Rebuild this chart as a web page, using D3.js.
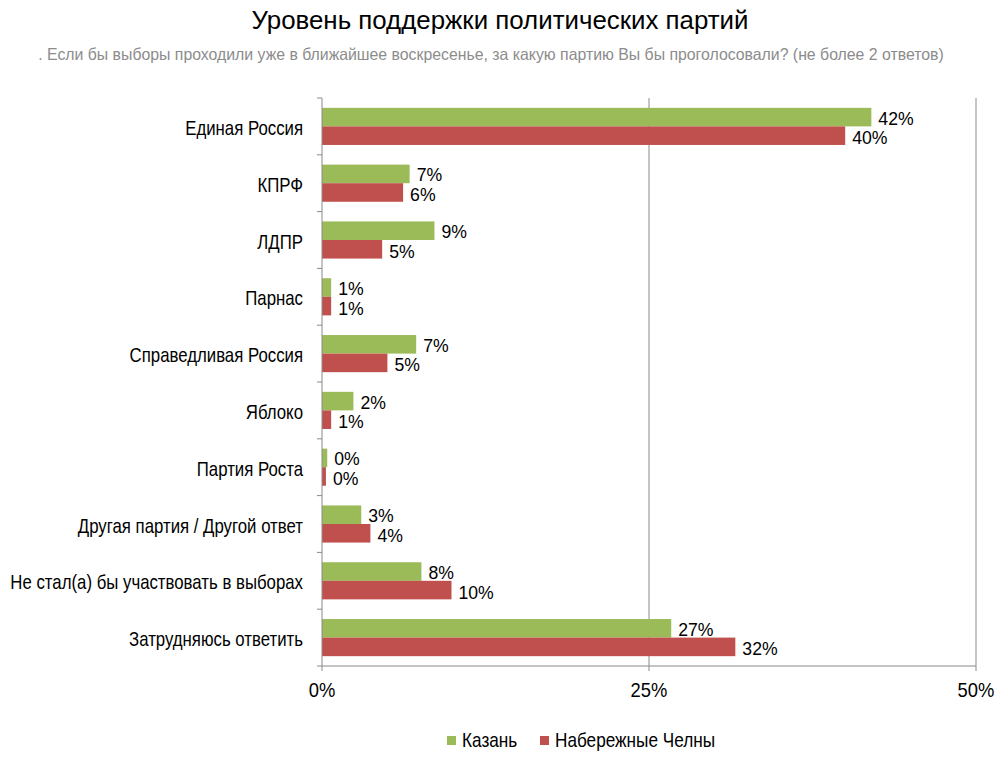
<!DOCTYPE html>
<html><head><meta charset="utf-8">
<script src="https://cdn.jsdelivr.net/npm/d3@7"></script>
<style>body{margin:0;background:#fff}svg{display:block}</style>
</head><body>
<script>
const categories = ["Единая Россия","КПРФ","ЛДПР","Парнас","Справедливая Россия","Яблоко","Партия Роста","Другая партия / Другой ответ","Не стал(а) бы участвовать в выборах","Затрудняюсь ответить"];
const kazan = [42.0,6.7,8.6,0.7,7.2,2.4,0.4,3.0,7.6,26.7];
const chelny = [40.0,6.2,4.6,0.7,5.0,0.7,0.3,3.7,9.9,31.6];
const seriesNames = ["Казань","Набережные Челны"];
const colors = ["#9BBB59","#C0504D"];
const xTicks = [0,25,50];
const title = "Уровень поддержки политических партий";
const subtitle = ". Если бы выборы проходили уже в ближайшее воскресенье, за какую партию Вы бы проголосовали? (не более 2 ответов)";

const W=1000,H=757;
const m={left:322,right:24,top:98,bottom:91};
const svg=d3.select("body").append("svg").attr("width",W).attr("height",H);
const font="'Liberation Sans',Arial,sans-serif";

function txt(parent,px,py,s,size,sx,anchor,fill){
  return parent.append("text").attr("transform",`translate(${px},${py}) scale(${sx},1)`)
    .attr("text-anchor",anchor||"start").style("font-family",font).style("font-size",size+"px")
    .attr("fill",fill||"#000").text(s);
}

txt(svg,500,29,title,26,0.995,"middle");
txt(svg,491,60,subtitle,16.5,0.96,"middle","#8c8c8c");

const x=d3.scaleLinear().domain([0,50]).range([m.left,W-m.right]);
const y=d3.scaleBand().domain(categories).range([m.top,H-m.bottom]);
const y1=d3.scaleBand().domain([0,1]).range([0,y.bandwidth()]).paddingOuter(0.53).paddingInner(0);

svg.append("g").selectAll("line").data(xTicks.filter(d=>d>0)).join("line")
 .attr("x1",d=>x(d)).attr("x2",d=>x(d)).attr("y1",m.top).attr("y2",H-m.bottom)
 .attr("stroke","#8a8a8a").attr("stroke-width",1);

const data=categories.map((c,i)=>({c,vals:[kazan[i],chelny[i]]}));
const g=svg.append("g").selectAll("g").data(data).join("g").attr("transform",d=>`translate(0,${y(d.c)})`);
g.selectAll("rect").data(d=>d.vals.map((v,s)=>({v,s}))).join("rect")
 .attr("x",x(0)).attr("y",d=>y1(d.s)).attr("width",d=>x(d.v)-x(0)).attr("height",y1.bandwidth())
 .attr("fill",d=>colors[d.s]);
g.each(function(d){
  const gg=d3.select(this);
  d.vals.forEach((v,s)=>{
    txt(gg,x(v)+7,y1(s)+y1.bandwidth()/2+(s===0?7.5:8.5),Math.round(v)+"%",18,0.98,"start");
  });
});

const ya=svg.append("g");
ya.append("line").attr("x1",m.left).attr("x2",m.left).attr("y1",m.top).attr("y2",H-m.bottom).attr("stroke","#8a8a8a");
const bounds=categories.map(c=>y(c)).concat([H-m.bottom]);
ya.selectAll("line.t").data(bounds).join("line").attr("class","t")
 .attr("x1",m.left-5).attr("x2",m.left).attr("y1",d=>d).attr("y2",d=>d).attr("stroke","#8a8a8a");
categories.forEach(c=>txt(ya,m.left-19,y(c)+y.bandwidth()/2+8.5,c,20,0.84,"end"));

const xa=svg.append("g");
xa.append("line").attr("x1",m.left).attr("x2",W-m.right).attr("y1",H-m.bottom).attr("y2",H-m.bottom).attr("stroke","#8a8a8a");
xa.selectAll("line.t").data(xTicks).join("line").attr("class","t")
 .attr("x1",d=>x(d)).attr("x2",d=>x(d)).attr("y1",H-m.bottom).attr("y2",H-m.bottom+5).attr("stroke","#8a8a8a");
xTicks.forEach(t=>txt(xa,x(t),697,t+"%",20,0.92,"middle"));

const lg=svg.append("g");
const lx=[447,540];
seriesNames.forEach((n,i)=>{
 lg.append("rect").attr("x",lx[i]).attr("y",736).attr("width",9).attr("height",9).attr("fill",colors[i]);
 txt(lg,lx[i]+15,747,n,20,0.86,"start");
});
</script>
</body></html>
